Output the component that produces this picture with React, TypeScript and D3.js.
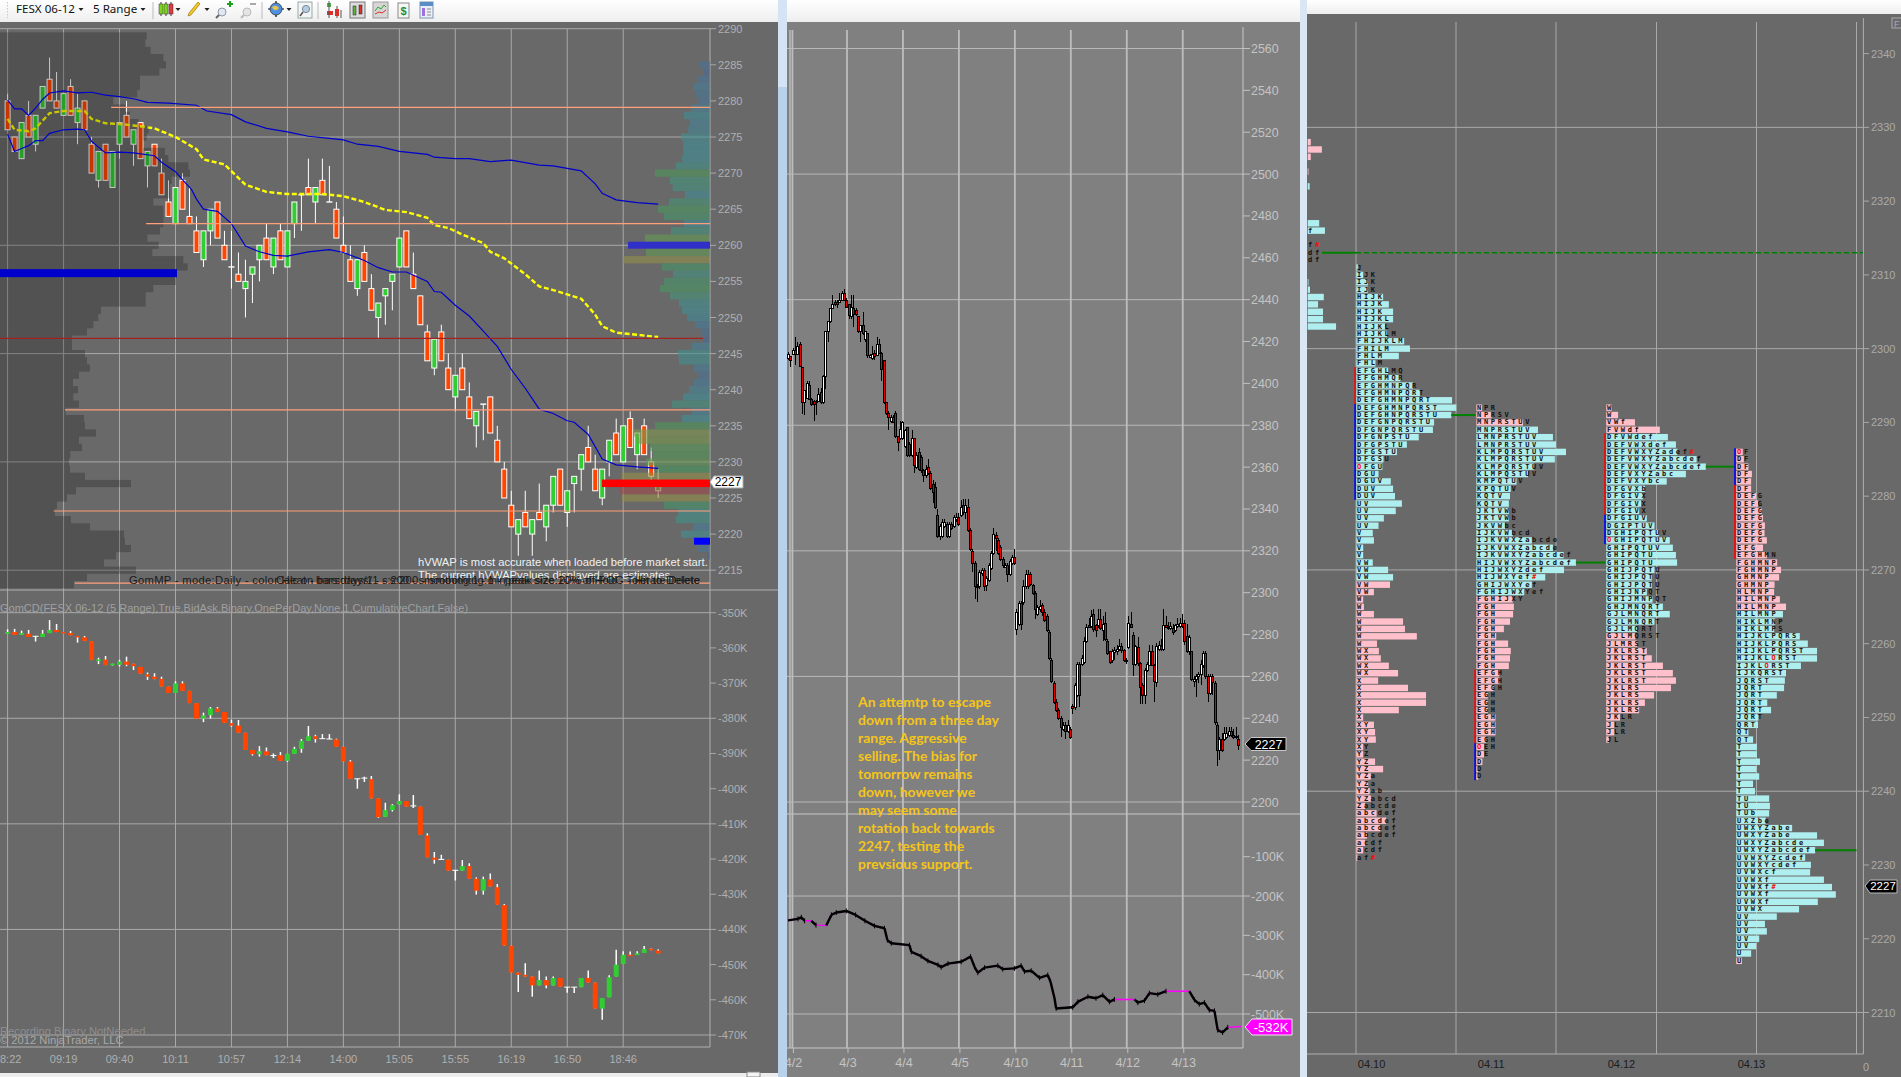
/*eslint-disable*/
import React from 'react';
import * as d3 from 'd3';

// ---- left chart: FESX 5 range candles [open, high, low, close]
const priceBars = [
  [2280,2281,2276,2276],[2275,2275,2273,2273],[2272,2277,2272,2277],[2278,2280,2275,2275],[2274,2278,2273,2278],[2279,2282,2279,2282],[2283,2286,2280,2280],[2280,2284,2279,2279],
  [2278,2281,2278,2281],[2282,2283,2278,2278],[2277,2281,2274,2279],[2280,2280,2276,2276],[2274,2275,2270,2270],[2269,2273,2268,2273],[2274,2274,2269,2269],[2268,2273,2268,2273],
  [2274,2277,2272,2277],[2278,2280,2275,2275],[2274,2276,2271,2276],[2277,2277,2272,2272],[2271,2273,2268,2273],[2274,2274,2271,2271],[2270,2272,2267,2267],[2266,2269,2264,2264],
  [2263,2268,2263,2268],[2269,2270,2265,2265],[2264,2268,2263,2263],[2262,2264,2259,2259],[2258,2262,2257,2262],[2262,2265,2260,2265],[2266,2266,2261,2261],[2260,2262,2258,2258],
  [2257,2262,2254,2257],[2256,2259,2255,2255],[2254,2258,2250,2255],[2256,2257,2252,2257],[2258,2260,2255,2260],[2261,2263,2258,2258],[2257,2261,2256,2261],[2262,2263,2258,2258],
  [2257,2262,2257,2262],[2263,2266,2261,2266],[2267,2267,2262,2267],[2268,2272,2267,2267],[2266,2268,2263,2268],[2269,2272,2267,2267],[2266,2271,2266,2266],[2265,2266,2261,2261],
  [2260,2264,2259,2259],[2258,2260,2255,2255],[2254,2258,2253,2258],[2259,2260,2255,2255],[2254,2256,2251,2251],[2250,2252,2247,2252],[2253,2254,2249,2254],[2255,2256,2251,2256],
  [2257,2261,2257,2261],[2262,2262,2257,2257],[2256,2259,2254,2254],[2253,2253,2249,2249],[2248,2249,2244,2244],[2243,2247,2242,2247],[2248,2249,2244,2244],[2243,2245,2240,2240],
  [2239,2242,2237,2242],[2243,2245,2240,2240],[2239,2241,2236,2236],[2235,2237,2232,2237],[2238,2238,2233,2238],[2239,2239,2234,2234],[2233,2235,2230,2230],[2229,2230,2225,2225],
  [2224,2226,2221,2221],[2220,2222,2217,2222],[2223,2226,2221,2221],[2220,2222,2217,2222],[2223,2227,2222,2222],[2221,2224,2219,2224],[2224,2228,2223,2228],[2229,2229,2224,2224],
  [2223,2226,2221,2226],[2227,2228,2223,2228],[2229,2231,2226,2231],[2232,2235,2230,2230],[2229,2231,2226,2226],[2225,2229,2224,2229],[2230,2233,2228,2233],[2234,2236,2231,2231],
  [2230,2235,2230,2235],[2236,2237,2232,2232],[2231,2234,2229,2234],[2235,2236,2231,2231],[2230,2232,2227,2228],[2226,2229,2225,2227],
];

const upperBandBars = [0,1,2,3,4,5,6,8,10,12,14,16,18,20,23,27,28.5,32,34,37,40,43,46,48,50,53,56,60,61,64,66,69,72,76,78,82,84,85,87,90,93];
const upperBandPrices = [2280.1,2278.9,2278.9,2278,2279,2280.2,2281.1,2281.4,2281.1,2281.2,2280.8,2280.6,2280.3,2279.8,2279.7,2279.4,2278.6,2278.1,2277.1,2276.2,2275.7,2275.1,2274.8,2274.6,2274,2273.7,2273,2272.6,2272.2,2272,2272,2271.6,2271.8,2271.1,2271,2270.3,2268.5,2267.2,2266.3,2265.9,2265.7];
const lowerBandBars = [0,1,2,3,4,5,6,8,10,11,12,13,14,16,18,21,22,24,25,26.3,27,28,30,32,34,36,38,40,43,46,48,51,53,55,57,60,61,62,64,66,68,70,72,74,76,78,80,81,83,85,87,90,93];
const lowerBandPrices = [2275.4,2273,2273.4,2273.8,2274.5,2274.5,2275.5,2276,2276.1,2276,2274.4,2273.6,2272.8,2272.9,2272.8,2272.4,2271.5,2270.2,2269.1,2267.7,2266.4,2265,2264.7,2263,2259.9,2259.1,2258.6,2258.5,2259.1,2259.4,2259,2257.9,2256.9,2256.3,2256.3,2255,2253.6,2253.5,2251.7,2250.2,2248.1,2246,2242.8,2240.2,2237.3,2236.7,2235.7,2235.5,2233.8,2230.4,2229.6,2229.3,2229.1];
const vwapBars = [0,1,3,4,6,8,11,12,14,16,18,21,24,27,28,31,34,37,40,45,48,51,54,57,60,61,63,65,68,69,71,74,76,78,82,84,85,87,90,93];
const vwapPrices = [2277.5,2276,2275.8,2276.2,2278.3,2278.6,2278.6,2277.5,2276.9,2276.8,2276.6,2276.2,2275,2273.3,2271.9,2271.2,2268.4,2267.4,2267.1,2267.1,2266.8,2266,2264.9,2264.6,2263.8,2262.8,2262.4,2261.5,2260.3,2259.1,2258.2,2256,2254.3,2253.8,2252.6,2250.4,2248.8,2247.9,2247.6,2247.3];

const levelPrices = [2279.1,2263,2237.2,2223.2,2213.2];
const levelBars = [14.8,19.8,8.2,6.6,9.6];

// left histogram, rows from 2289 down to 2213
const sessionProfile = [440,436,452,490,498,478,420,420,412,340,375,390,416,446,440,430,495,505,565,570,515,510,510,460,490,490,490,480,442,476,457,550,563,530,528,460,437,437,303,295,280,261,216,216,255,261,270,237,219,234,220,237,197,252,255,288,237,246,211,207,210,255,393,228,201,171,165,213,270,372,375,393,348,312,408,261,222];
// right histogram, rows from 2285 down to 2217
const todayProfile = [30,18,35,50,42,35,57,78,60,65,87,80,80,84,102,165,120,112,75,123,156,138,78,117,195,195,192,260,144,111,138,150,120,93,84,69,45,27,20,55,96,93,50,35,48,63,81,114,55,84,165,230,220,180,172,192,160,265,240,270,264,138,96,102,50,87,48,36,8];

const timeBars = [0,8,16,24,32,40,48,56,64,72,80,88];
const timeLabels = ['08:22','09:19','09:40','10:11','10:57','12:14','14:00','15:05','15:55','16:19','16:50','18:46'];
const leftPriceTicks = d3.range(2215, 2291, 5);
const leftGridPrices = [2290,2275,2260,2245,2230,2215];
const leftDeltaTicks = d3.range(-470, -349, 10);
const leftDeltaGrid = [-350,-380,-410,-440,-470];

// cumulative delta under the left chart [open, high, low, close], in thousands
const deltaBars = [
  [-356,-354.7,-356,-355.5],[-355.5,-354.6,-356.3,-356.3],[-356.3,-355.1,-356.3,-355.8],[-356,-354.9,-356.9,-356.9],[-356.7,-356.7,-358.2,-356.7],[-356.9,-354.9,-356.9,-356],[-355.8,-352.1,-355.8,-354.9],[-354.9,-353.2,-355.5,-355.5],
  [-355.5,-355.5,-355.8,-355.8],[-355.8,-355.2,-356.4,-356.4],[-356.6,-356.6,-358.5,-356.9],[-357,-356.6,-358,-358],[-358.1,-358.1,-363.4,-363.4],[-363.4,-362.8,-364.6,-363.3],[-363.3,-362.3,-364.9,-364.9],[-364.9,-364.5,-365,-364.5],
  [-364.8,-363.4,-365.3,-363.9],[-363.9,-362.5,-365.2,-364.8],[-364.5,-364.5,-366.3,-365.2],[-365.4,-365.4,-367.3,-367.3],[-367.5,-367,-369.1,-368.2],[-368.2,-367.2,-368.9,-368.8],[-368.8,-368.2,-371,-371],[-371,-371,-372.8,-372.8],
  [-372.8,-369.5,-372.8,-370.1],[-370.1,-369.5,-372.2,-372.2],[-372.2,-372.2,-375.7,-375.7],[-375.7,-375.7,-380.1,-380.1],[-380.1,-378.4,-381.1,-379.2],[-379.1,-376.8,-380.1,-377.2],[-377.2,-376.8,-378.2,-378.2],[-378.2,-378.2,-381.3,-381.3],
  [-381.4,-380.4,-382.4,-382.1],[-382.1,-380.5,-384.1,-384.1],[-384.1,-384.1,-389,-389],[-389,-389,-390.6,-390.2],[-390.2,-387.9,-390.9,-389.4],[-389.4,-388.3,-390.5,-390.5],[-390.6,-390,-391.3,-390.6],[-390.5,-389.6,-392.1,-392.1],
  [-392.1,-390.1,-392.4,-390.1],[-390.1,-388.1,-390.1,-388.7],[-388.7,-385.9,-389.8,-386.4],[-386.4,-382.2,-386.4,-385.1],[-385.1,-384.7,-386.9,-385.9],[-385.8,-384.5,-385.8,-385.8],[-385.9,-384.5,-385.9,-385.9],[-386,-385.8,-388.1,-388.1],
  [-388.1,-388.1,-392.3,-392.3],[-392.3,-391.9,-397.2,-397.2],[-397.2,-397.2,-400,-397.2],[-397,-396.6,-398.1,-397],[-397.3,-396.4,-402.8,-402.8],[-402.8,-402.8,-408.3,-408.1],[-408,-404,-408,-406.1],[-406.1,-404.4,-406.5,-404.7],
  [-404.5,-401.6,-404.5,-403.5],[-403.5,-403.5,-405.1,-405.1],[-404.9,-401.8,-405.5,-404.9],[-405.1,-405.1,-413.1,-413.1],[-413.3,-412.7,-419.5,-419.5],[-419.6,-418,-421.3,-420.2],[-420.1,-418.8,-420.1,-420.1],[-420.2,-420.2,-423.3,-423.3],
  [-423.2,-423.2,-426.1,-423.2],[-423.3,-420.3,-423.3,-422],[-422,-421.2,-425.6,-425.6],[-425.6,-425.2,-430.1,-429],[-429,-425,-430.1,-425.7],[-425.8,-424.1,-427.8,-427.8],[-428,-427.1,-433,-433],[-433.1,-432.8,-444.6,-444.6],
  [-444.6,-444.6,-452.3,-452.3],[-452.3,-452.3,-457.8,-452.9],[-452.9,-449.6,-453.4,-453.4],[-453.4,-453.4,-459.1,-455.9],[-455.9,-451.7,-455.9,-454.4],[-454.4,-453.4,-456.7,-455.9],[-455.9,-453.4,-455.9,-453.8],[-453.8,-453.8,-456.3,-456.3],
  [-456.4,-456.4,-458,-456.4],[-456.4,-456.4,-458.1,-456.4],[-456.4,-453.8,-456.4,-453.8],[-453.8,-451.7,-455.1,-455.1],[-455.1,-455.1,-462.5,-462.5],[-462.5,-459.5,-465.7,-459.5],[-459.3,-453,-459.3,-453.6],[-453.4,-445.8,-453.4,-450],
  [-449.8,-446.2,-449.8,-447.2],[-447.2,-446.3,-447.3,-447.3],[-447.3,-446.2,-447.3,-446.8],[-446.7,-444.7,-446.7,-445.6],[-445.5,-445.4,-445.9,-445.9],[-446,-445.6,-446.8,-446.8],
];

// ---- middle chart: daily swing candles [open, high, low, close]
const midBars = [
  [2412,2415,2411,2414],[2413,2413,2408,2411],[2414,2417,2414,2416],[2416,2422,2409,2414],[2414,2420,2414,2418],[2419,2420,2408,2408.5],[2408,2408,2385.5,2391],[2391,2397,2385,2397],
  [2393,2401,2393,2400],[2399,2401,2392,2392.5],[2392.5,2393,2389,2390],[2391.5,2392,2382,2390],[2391,2392,2385,2391.5],[2391.5,2398,2391,2395],[2396,2398,2390,2391],[2391,2404,2390,2403.5],
  [2403.5,2425,2397.5,2425],[2425,2430,2420,2430],[2430,2436,2429,2436],[2436,2442,2436,2438],[2439,2440,2437,2438],[2439,2440,2436,2438],[2439,2443,2439,2440],[2440,2444,2440,2443],
  [2443,2445,2440,2440],[2440,2441,2436,2436.5],[2438,2438,2431,2432.5],[2432,2442,2431,2436.5],[2436,2442,2427,2433],[2435,2436,2432,2433],[2432,2432,2424,2425],[2425,2428,2420,2428],
  [2428,2434,2423,2424],[2421,2425,2420,2425],[2424,2424,2412,2413.5],[2412.5,2414,2412,2413.5],[2412,2418,2411,2414],[2414.5,2416,2411,2413],[2413.5,2422,2413,2419],[2419,2421,2414,2414.5],
  [2414.5,2415,2401,2407],[2411,2411,2390,2391],[2391,2391,2385,2386],[2386,2387,2377.5,2384],[2382,2385,2381,2384],[2384,2385,2381,2381.5],[2386,2387,2374,2375],[2375,2375,2367.5,2372],
  [2374,2382,2373,2378],[2374,2382,2373,2381.5],[2370,2378,2369,2377.5],[2379,2379,2365,2366],[2371,2372,2365,2366],[2366,2377.5,2365,2374],[2374,2374,2357,2361],[2360,2367,2359,2366],
  [2367,2369,2358,2359],[2365,2366,2357,2358.5],[2358.5,2359,2353,2356],[2356,2361,2355,2359],[2360,2364,2356,2357],[2357,2358,2349,2350],[2352,2354,2343,2348],[2350.5,2353,2340,2341],
  [2337,2340,2326,2327],[2327,2333,2325,2332],[2327,2335,2326,2334],[2332,2335,2331,2334],[2333,2334,2326,2327],[2327,2334,2326,2333],[2333,2334,2330,2331],[2332,2337,2331,2336],
  [2335,2338,2334,2336],[2336,2338,2332,2333],[2337,2344.5,2336,2341],[2342,2345,2337,2338.5],[2338.5,2345,2335,2342],[2341,2345,2329,2330],[2330,2331,2320,2321],[2320,2321,2310,2314],
  [2314,2315,2297,2303],[2302.5,2304,2295.5,2303],[2303,2311,2302,2310],[2309.5,2312,2308,2311],[2311,2312,2301,2303],[2303.5,2308,2301,2307],[2306,2314,2305,2313],[2312,2320,2311,2319],
  [2319,2331,2318,2328],[2327.5,2329,2320,2326],[2325,2326,2318,2319],[2322,2323,2315,2316],[2316,2317,2312,2313],[2312.5,2314,2312,2313],[2313,2314,2305,2309],[2309,2316,2308,2315],
  [2314,2318,2313,2317],[2317,2321,2313,2314],[2282.5,2292,2280,2291],[2285,2296,2284,2295],[2295,2296,2282,2285],[2295.5,2306,2294,2303],[2303,2311,2302,2309],[2309,2311,2302,2303],
  [2309,2310,2303,2304],[2303.5,2304,2299,2300],[2300,2301,2287.5,2292],[2290,2294,2289,2293],[2292,2296.5,2291,2293.5],[2294,2295,2289,2291],[2291,2292,2286,2287],[2289,2290,2281,2282],
  [2281,2282,2268,2269],[2268,2269,2257,2258],[2257,2258,2247,2248],[2248,2249,2243,2244],[2244,2245,2239,2240],[2240,2241,2231,2236],[2235,2238,2234,2237],[2237,2238,2230,2234],
  [2234,2239,2233,2237],[2235,2236,2230,2231],[2246,2247,2242,2245],[2245.5,2257,2244,2256],[2251,2267,2250,2266],[2266,2267,2245.5,2251],[2266,2270,2265,2269],[2267,2279,2266,2277],
  [2277,2285,2276,2283.5],[2284.5,2288,2283,2283.5],[2284,2291.5,2283,2289],[2290,2292,2281,2282.5],[2284.5,2285,2279,2282],[2284.5,2292,2283,2287.5],[2287.5,2292,2282,2283],[2282,2289,2277,2285],
  [2285.5,2291,2277,2278],[2277,2278,2270,2271],[2272,2272,2266,2267],[2268,2273,2266.5,2272],[2271.5,2274,2268,2272.5],[2272,2275,2270,2273],[2273,2278,2272,2274.5],[2274.5,2276,2271,2272.5],
  [2272.5,2273,2267,2268],[2268,2269,2266,2267.5],[2274,2289,2273,2285.5],[2285,2291,2283,2283.5],[2280,2281,2260,2266],[2266,2275,2265,2274.5],[2274,2279,2265,2266.5],[2266.5,2267,2247,2255],
  [2256,2257,2247,2251],[2251,2264,2247,2263],[2263,2267,2262,2266],[2265.5,2275,2265,2272],[2272,2275,2265,2265.5],[2265.5,2266,2248,2258],[2257.5,2276,2255,2274.5],[2273,2277,2272,2275],
  [2274.5,2278,2272,2273],[2273,2292,2272,2284.5],[2284.5,2289,2283,2283.5],[2283.5,2286,2282,2283],[2283,2286,2282,2284],[2283,2285,2280,2281],[2282,2285,2281,2284.5],[2284,2288,2283,2285],
  [2284,2288,2283,2285.5],[2285.5,2290,2283,2284],[2285.5,2287,2275,2277],[2279.5,2285,2271,2272],[2272,2280,2270,2279],[2272,2272,2258,2259],[2258,2260,2255,2259],[2259,2261,2250,2260],
  [2260,2262,2257,2261],[2261,2268,2256,2266],[2265.5,2272,2264,2271],[2271,2272,2259,2260],[2260,2261,2248,2252],[2252,2261,2251,2260],[2260,2261,2251,2257.5],[2257,2258,2237,2238],
  [2237,2238,2217,2225],[2225,2231,2220,2230],[2230,2233,2224,2225],[2230,2236,2229,2233],[2231,2236,2230,2233],[2232,2236,2231,2234],[2234,2236,2231,2232],[2232,2235,2230,2231],
  [2231.5,2236,2230,2231],[2230,2232,2225,2227],
];
const midDayBars = [1.9,25.3,49.3,73.3,97.3,121.3,145.3,169.3];
const midDayLabels = ['4/2','4/3','4/4','4/5','4/10','4/11','4/12','4/13'];
const midPriceTicks = d3.range(2200, 2561, 20);
const midGridPrices = [2560,2500,2440,2380,2320,2260,2200];
const midDeltaTicks = [-100,-200,-300,-400,-500];
const midDeltaGrid = [-200,-500];

const cumDeltaBars = [0,4.3,5.7,7.1,10,12,16.4,18.6,20.7,25,29,33,37.1,41.4,42.6,44.3,52.1,52.9,57.1,60,64.3,65.7,68.6,74.3,78.3,80,81.4,84.3,90,92.1,97.1,100,101.4,104.3,107.9,111.4,112.6,114.3,115,122.1,124.3,128.6,132.1,135,137.9,140,148.6,150,152.9,155,158.6,162.1,172.1,174.3,176.4,178.6,180.7,182.9,184.3,186.4,188.6,194.3];
const cumDeltaValues = [-262,-258,-254,-263,-263,-274,-275,-248,-242,-238,-248,-263,-276,-282,-312,-320,-325,-342,-353,-365,-375,-381,-372,-367,-354,-380,-395,-382,-377,-386,-384,-377,-392,-390,-408,-401,-418,-460,-486,-483,-469,-456,-460,-452,-469,-463,-463,-471,-466,-447,-450,-442,-442,-464,-475,-471,-490,-492,-541,-547,-534,-532];

const noteLines = ['An attemtp to escape','down from a three day','range. Aggressive','selling. The bias for','tomorrow remains','down, however we','may seem some','rotation back towards','2247, testing the','prevsious support.'];

// ---- right chart: market profile letters per session, top row first
const tpoPrevPrices = [2328,2327,2326,2324,2322,2317,2316,2314,2313,2312,2309,2308,2307,2306,2305,2304,2303];
const tpoPrevVolumes = [8,37,8,2,5,30,45,0,0,0,2,6,42,27,40,40,74];
const tpoPrevLetters = ['','','','','','','f','f#','df','df','','','','','','',''];

const tpo10Letters = ['J','IJK','IJK','IJK','HIJK','HIJK','HIJK','HIJKL','HIJKL','HIJKLM','FHIJKLM','FHILM','FHLM','FHLM','EFGHLMQ','EFGHMQR','EFGHMNPQR','EFGHMNPQRT','DEFGHMNPQRT','DEFGHMNPQRST','DEFGHNPQRSTU','DEFGNPQRSTU','DFGNPQRSTU','DFGNPSTU','DFGPSTU','DFGSTU','DFGSU','OFGU','DGU','DGUV','DUV','DUV','UV','UV','UV','UV','V','V','V','V','VW','VW','VW','VW','VW','W','W','W','W','W','W','W','WX','WX','WX','WX','X','X','X','X','X','X','XY','XY','XY','XY','YZ','YZ','YZ','YZa','YZa','YZab','YZabcd','Zabcde','abcdef','abcdef','abcdef','abcdef','acdf','acdf','af#'];
const tpo10Volumes = [4,18,30,30,70,85,96,96,75,80,125,140,111,50,83,115,148,166,250,261,248,203,200,163,132,106,71,68,58,90,96,101,119,103,72,58,43,46,18,18,43,83,96,88,46,18,20,46,122,127,158,54,59,64,85,109,57,135,182,182,111,18,46,49,51,18,18,49,70,38,31,35,38,23,53,78,63,28,23,18,3];

const tpo11Letters = ['NPR','NPRSV','MNPRSTUV','MNPRSTUV','LMNPRSTUV','LMNPRSTUV','KLMPQRSTUV','KLMPQRSTUV','KLMPQRSTUV','KLMPQSTUV','KMPQTUV','KPQTUV','KQTV','KQTV','JKTVWb','JKTVWb','JKVWbc','IJKVWbcd','IJKVWXZabcde','IJKVWXZabcde','IJKVWXYZabcdef','HIJVWXYZabcdef','HIJWXYZdef','HIJWXYef#','GHIJWXYef','FGHIJWXYef','FGHIJXY','FGH','FGH','FGH','FGH','FGH','FGH','FGH','FGH','FGH','EFGH','EFGH','EFGH','EGH','EGH','EGH','EGH','EGH','EGH','EGH','OEH','DE','D','D','D'];
const tpo11Volumes = [15,40,122,161,200,208,234,205,150,135,105,90,88,85,85,85,75,95,145,200,228,260,229,180,145,125,95,98,96,88,72,52,83,90,88,85,60,60,45,30,30,30,50,50,50,25,20,20,16,5,5];

const tpo12Letters = ['W','W','VWf','FVWdf','DFVWdef','DEFVWXdef','DEFVWXYZadef#','DEFVWXYZabcdef','DEFVWXYZabcdef','DEFVXYZabc','DEFVXYbc','DFGVXb','DFGIVX','DFGIVX','DFGIVX','DFGIUV','DGIPTUV','DGHIPQTUV','OGHIPQTUV','GHIPQTUV','GHIPQTU','GHIPQTU','GHIJPQTU','GHIJPQTU','GHIJPQTU','GHIJNPQT','GHIJMNPQT','GHJMNQRT','GJLMNQRT','GJLMNQRT','GJLMQRT','GJLMQRST','JLMRST','JKLRST','JKLRST','JKLRST','JKLRST','JKLRST','JKLRS','JKLRS','JKLRS','JKLRS','JKLR','JLR','JLR','JL'];
const tpo12Volumes = [14,31,75,140,161,182,186,236,260,208,158,101,96,91,86,106,126,138,166,174,182,185,126,119,119,106,121,148,166,126,81,76,81,106,119,148,174,182,169,125,101,86,36,21,21,7];

const tpo13Letters = ['OF','DF','DF','DF','DF','DF','DEFG','DEFG','DEFG','DEFG','DEFG','DEFG','DEFG','EFG','EFGHMN','FGHMNP','FGHMNP','GHMNP','GHMNP','HLMNP','HILMNP','HILMNP','HILMNP','HIKLMNP','HIKLMPS','HIJKLPQRS','HIJKLPQRS','HIJKLPQRST','HIJKLORST','IJKLORST','IJKQRST','JQRST','JQRT','JQRT','JQRT','JQRT','JQRT','QRT','QT','QT','T','T','T','T','T','T','T','TU','TU','TUb','UXZbe','UWXYZabe','UWXYZabe','UWXYZabcde','UWXYZabcdef','UVWXYZcdef','UVWXYcdef','UVWXcf','UVWXf','UVWXf#','UVWXf','UVWXf','UVWX','UV','UV','UV','UV','UV','U','U'];
const tpo13Volumes = [17,20,32,41,39,39,52,57,67,70,75,74,80,70,80,107,117,112,100,99,114,130,122,102,99,166,187,211,211,169,130,127,125,106,81,91,58,57,32,44,54,54,62,53,60,44,49,86,88,86,77,146,211,229,206,180,195,193,229,250,260,213,164,106,75,80,60,52,39,15];

const tpoDayLabels = ['04.10','04.11','04.12','04.13'];
const tpoTopPrices = [2311,2292,2292,2286];
const tpoCyanBands = [[2311,2269],[2289,2267],[2288,2262],[2264,2218]];
const tpoRedRanges = [[2297.5,2292.5],[2256.5,2246.5],[2288.5,2277.5],[2281.5,2271.5]];
const tpoBlueRanges = [[2292.5,2279.5],[2246.5,2241.5],[2277.5,2273.5],[2286.5,2281.5]];
const tpoPocPrices = [2291,2271,2284,2232];
const rightPriceTicks = d3.range(2210, 2341, 10);
const rightGridPrices = [2330,2300,2270,2240,2210];

// ---- scales
const leftX = d3.scaleLinear().domain([0, 88]).range([7.6, 623.2]);
const leftY = d3.scaleLinear().domain([2290, 2215]).range([28.7, 570.2]);
const leftDeltaY = d3.scaleLinear().domain([-350, -470]).range([612.7, 1035]);
const midX = d3.scaleLinear().domain([0, 193]).range([788, 1238]);
const midY = d3.scaleLinear().domain([2560, 2200]).range([48.5, 802]);
const midDeltaY = d3.scaleLinear().domain([-100, -500]).range([856.7, 1014]);
const rightY = d3.scaleLinear().domain([2340, 2210]).range([53.6, 1012.5]);
const tpoW = d3.scaleLinear().domain([0, 261]).range([0, 100]);
const tpoStarts = [1356.3, 1476.3, 1606.2, 1736.2];
const tpoGridX = [1356, 1456, 1556, 1656.5, 1756.5, 1856.5];
const todayColor = d3.scaleLinear<string>()
  .domain([20, 80, 160, 225, 268, 270])
  .range(['#4a6b99', '#3e8f98', '#48985a', '#7c9a4c', '#988e48', '#a04a4a']);

const sans = '"Liberation Sans", Arial, sans-serif';
const lineOf = (xs: number[], ys: number[], fx: any, fy: any) =>
  d3.line<number>().x((d) => fx(d)).y((_, i) => fy(ys[i])).curve(d3.curveLinear)(xs) as string;

const CandleLeft = ({ d, i, y }: any) => {
  const [o, h, l, c] = d;
  const x = leftX(i);
  if (o === c) {
    return (
      <g stroke="#fff">
        <line x1={x} x2={x} y1={y(h)} y2={y(l)} strokeWidth={1} />
        <line x1={x - 3} x2={x + 3} y1={y(o)} y2={y(o)} strokeWidth={1.4} />
      </g>
    );
  }
  const top = Math.max(o, c);
  const bot = Math.min(o, c);
  return (
    <g>
      <line x1={x} x2={x} y1={y(h)} y2={y(l)} stroke="#fff" strokeWidth={1} />
      <rect x={x - 2.5} width={5} y={y(top)} height={y(bot) - y(top)} fill={c > o ? '#32cd32' : '#ff4500'} stroke="#fff" strokeWidth={1} />
    </g>
  );
};

const CandleDelta = ({ d, i, y }: any) => {
  const [o, h, l, c] = d;
  const x = leftX(i);
  if (o === c) {
    return (
      <g stroke="#fff">
        <line x1={x} x2={x} y1={y(h)} y2={y(l)} strokeWidth={1.5} />
        <line x1={x - 3} x2={x + 3} y1={y(o)} y2={y(o)} strokeWidth={1} />
      </g>
    );
  }
  const top = Math.max(o, c);
  const bot = Math.min(o, c);
  return (
    <g>
      <line x1={x} x2={x} y1={y(h)} y2={y(l)} stroke="#fff" strokeWidth={1.5} />
      <rect x={x - 2.5} width={5} y={y(top)} height={Math.max(1.5, y(bot) - y(top))} fill={c > o ? '#32cd32' : '#ff4500'} />
    </g>
  );
};

// snapped to whole pixels so the outline stays black and the fill stays solid
const CandleMid = ({ d, i }: any) => {
  const [o, h, l, c] = d;
  const x = Math.round(midX(i)) + 0.5;
  const top = Math.round(midY(Math.max(o, c))) + 0.5;
  const bot = Math.round(midY(Math.min(o, c))) + 0.5;
  return (
    <g shapeRendering="crispEdges">
      <line x1={x} x2={x} y1={midY(h)} y2={midY(l)} stroke="#000" strokeWidth={1} />
      <rect x={x - 1} width={2} y={top} height={Math.max(1, bot - top)} fill={c > o ? '#fff' : '#e60000'} stroke="#000" strokeWidth={1} />
    </g>
  );
};

// letters sit on a fixed grid, open marker and # are red
const TpoText = ({ x, y, s }: any) => (
  <text x={x} y={y} dominantBaseline="central" fontFamily='"DejaVu Sans Mono", monospace' fontWeight="bold" fontSize={7} letterSpacing={2.65} fill="#111">
    {s.split('').map((ch: string, k: number) => (
      <tspan key={k} fill={ch === '#' || ch === 'O' ? '#ee1111' : '#111'}>{ch}</tspan>
    ))}
  </text>
);

const Toolbar = () => (
  <g>
    <defs>
      <linearGradient id="bar" x1="0" y1="0" x2="0" y2="1">
        <stop offset="0" stopColor="#ffffff" />
        <stop offset="1" stopColor="#eeeeee" />
      </linearGradient>
    </defs>
    <rect x={0} y={0} width={780} height={22} fill="url(#bar)" />
    <rect x={787} y={0} width={513} height={22} fill="url(#bar)" />
    <rect x={1307} y={0} width={594} height={14} fill="url(#bar)" />
    <line x1={7.5} x2={7.5} y1={2} y2={18} stroke="#c8c8c8" strokeDasharray="1.5,1.5" />
    <text x={16} y={13} fontFamily='"Noto Sans", sans-serif' fontSize={11.6} fill="#111">FESX 06-12</text>
    <text x={93} y={13} fontFamily='"Noto Sans", sans-serif' fontSize={11.6} fill="#111">5 Range</text>
    {[81, 143, 178, 207, 289].map((x) => <path key={x} d={`M${x - 2.5},8 h5 l-2.5,3 z`} fill="#222" />)}
    {[153, 262, 318].map((x) => <line key={x} x1={x} x2={x} y1={2} y2={19} stroke="#bbb" />)}
    {[161, 166, 171].map((x, k) => (
      <g key={x}>
        <line x1={x} x2={x} y1={2} y2={16} stroke="#333" />
        <rect x={x - 2} y={4} width={4} height={10} fill={k === 2 ? '#e23b3b' : '#7ed321'} stroke="#333" strokeWidth={0.5} />
      </g>
    ))}
    <path d="M188,16 l3,-1 l9,-11 l-2,-2 l-9,11 z" fill="#f2c521" stroke="#8a6d10" strokeWidth={0.6} />
    <circle cx={222} cy={12} r={4} fill="#dfe8f2" stroke="#8f99a5" />
    <line x1={219} x2={216} y1={15} y2={18} stroke="#666" strokeWidth={2} />
    <path d="M227,4 h6 M230,1 v6" stroke="#1aa01a" strokeWidth={2} />
    <circle cx={247} cy={12} r={4} fill="#e4e4e4" stroke="#bbb" />
    <line x1={244} x2={241} y1={15} y2={18} stroke="#bbb" strokeWidth={2} />
    <path d="M250,4 h6" stroke="#aaa" strokeWidth={2} />
    <circle cx={276} cy={9} r={6} fill="#4f8fe0" stroke="#222" strokeWidth={0.7} />
    <path d="M272,7 q4,-3 7,1 q-3,4 -6,1 z" fill="#e5c64a" />
    <path d="M276,1 v2 M276,15 v2 M268,9 h2 M282,9 h2" stroke="#111" strokeWidth={1.2} />
    <rect x={298} y={2} width={14} height={16} fill="#f2f4f6" stroke="#9aa" />
    <circle cx={306} cy={9} r={3.6} fill="#b6cce0" stroke="#789" />
    <line x1={303} x2={300} y1={12} y2={16} stroke="#555" strokeWidth={1.5} />
    <rect x={327} y={3} width={4} height={4} fill="#4caf50" />
    <rect x={327} y={11} width={6} height={4} fill="#d9302c" />
    <path d="M329,1 v17 M337,6 v12 M341,10 v8" stroke="#555" />
    <rect x={335} y={9} width={4} height={7} fill="#d9302c" />
    <rect x={350} y={2} width={15} height={16} fill="#ddd" stroke="#777" />
    <rect x={353} y={6} width={3} height={9} fill="#5ab23a" stroke="#222" strokeWidth={0.5} />
    <rect x={359} y={5} width={3} height={9} fill="#d9302c" stroke="#222" strokeWidth={0.5} />
    <rect x={373} y={2} width={15} height={16} fill="#d6d6d6" stroke="#999" />
    <path d="M375,11 l3,-4 l3,2 l3,-4 l2,2" stroke="#2fa52f" fill="none" />
    <path d="M375,14 l4,-2 l3,1 l4,-3" stroke="#d9302c" fill="none" />
    <rect x={398} y={3} width={11} height={15} fill="#f6f6f6" stroke="#888" />
    <text x={400.5} y={15} fontFamily={sans} fontWeight="bold" fontSize={11} fill="#1f8f2f">$</text>
    <rect x={420} y={2} width={13} height={16} fill="#eaf0f7" stroke="#7f95b0" />
    <rect x={420} y={2} width={13} height={4} fill="#5b8ec4" />
    <rect x={422} y={8} width={3} height={8} fill="#a070e0" />
    <path d="M427,9 h4 M427,12 h4 M427,15 h4" stroke="#888" />
  </g>
);

export default function App() {
  const cumPts = cumDeltaBars.map((b, i) => [midX(b), midDeltaY(cumDeltaValues[i])]);
  return (
    <svg width={1901} height={1077} style={{ position: 'absolute', left: 0, top: 0, display: 'block' }}>
      {/* pane backgrounds */}
      <rect x={0} y={0} width={780} height={1077} fill="#696969" />
      <rect x={787} y={0} width={513} height={1077} fill="#808080" />
      <rect x={1307} y={0} width={594} height={1077} fill="#696969" />

      {/* ---------- left pane ---------- */}
      <g>
        {leftGridPrices.map((p) => <line key={p} x1={0} x2={710} y1={leftY(p)} y2={leftY(p)} stroke="#a9a9a9" />)}
        {leftDeltaGrid.map((p) => <line key={p} x1={0} x2={710} y1={leftDeltaY(p)} y2={leftDeltaY(p)} stroke="#a9a9a9" />)}
        {timeBars.map((b) => <line key={b} x1={leftX(b)} x2={leftX(b)} y1={29} y2={1047} stroke="#a9a9a9" />)}
        <line x1={0} x2={778} y1={590} y2={590} stroke="#b0b0b0" />
        <line x1={0} x2={710} y1={1047} y2={1047} stroke="#b0b0b0" />
        <line x1={710} x2={710} y1={28} y2={1047} stroke="#b0b0b0" />

        {priceBars.map((d, i) => <CandleLeft key={i} d={d} i={i} y={leftY} />)}
        <path d={lineOf(vwapBars, vwapPrices, leftX, leftY)} fill="none" stroke="#ffff00" strokeWidth={2.4} strokeDasharray="5,2.5" />

        {/* session profile dims what is under it */}
        {sessionProfile.map((v, i) => {
          const p = 2289 - i;
          return <rect key={p} x={0} width={v / 3} y={leftY(p + 0.5)} height={leftY(p - 0.5) - leftY(p + 0.5)} fill="#000" opacity={0.22} />;
        })}
        <rect x={0} width={177} y={leftY(2256.7)} height={8} fill="#0000cd" />

        {todayProfile.map((v, i) => {
          const p = 2285 - i;
          return <rect key={p} x={710 - v / 3} width={v / 3} y={leftY(p + 0.5)} height={leftY(p - 0.5) - leftY(p + 0.5)} fill={todayColor(v)} opacity={0.6} />;
        })}
        <rect x={628} width={82} y={leftY(2260.5)} height={7} fill="#3030c8" />
        <rect x={694} width={16} y={leftY(2219.5)} height={7} fill="#0000ff" />

        <path d={lineOf(upperBandBars, upperBandPrices, leftX, leftY)} fill="none" stroke="#0000cd" strokeWidth={1.2} />
        <path d={lineOf(lowerBandBars, lowerBandPrices, leftX, leftY)} fill="none" stroke="#0000cd" strokeWidth={1.2} />

        {levelPrices.map((p, i) => <line key={p} x1={leftX(levelBars[i])} x2={710} y1={leftY(p)} y2={leftY(p)} stroke="#ffa07a" strokeWidth={1.2} />)}
        <line x1={0} x2={703} y1={leftY(2247.1)} y2={leftY(2247.1)} stroke="#a52020" strokeWidth={1.2} />
        <rect x={602} width={108} y={leftY(2227) - 4} height={7.5} fill="#ff0000" />

        <text x={418} y={566} fontFamily={sans} fontSize={11.2} fill="#f0f0f0">hVWAP is most accurate when loaded before market start.</text>
        <text x={418} y={579} fontFamily={sans} fontSize={11.2} fill="#f0f0f0">The current hVWAPvalues displayed are estimates.</text>
        <text x={129} y={584} textLength={571} lengthAdjust="spacing" fontFamily={sans} fontSize={11.2} fill="#1a1a1a">GomMP - mode:Daily - color:Heat - bars:days/1 - s:200 - smoothing:1 - peak size:20% of POC - Hit to Delete</text>
        <text x={276} y={584} textLength={424} lengthAdjust="spacing" fontFamily={sans} fontSize={11.2} fill="#1a1a1a">Calc on bars:days/1 - s:200 - smoothing:1 - min peak size:10% of Hold - Tolerate Delete</text>

        {deltaBars.map((d, i) => <CandleDelta key={i} d={d} i={i} y={leftDeltaY} />)}

        <text x={0} y={612} fontFamily={sans} fontSize={11} fill="#a0a0a0">GomCD(FESX 06-12 (5 Range),True,BidAsk,Binary,OnePerDay,None,1,CumulativeChart,False)</text>
        <text x={0} y={1035} fontFamily={sans} fontSize={11.2} fill="#8e8e8e">Recording Binary NotNeeded</text>
        <text x={0} y={1044} fontFamily={sans} fontSize={11.2} fill="#a8a8a8">© 2012 NinjaTrader, LLC</text>

        {leftPriceTicks.map((p) => (
          <g key={p}>
            <line x1={710} x2={716} y1={leftY(p)} y2={leftY(p)} stroke="#a9a9a9" />
            <text x={718} y={leftY(p) + 4} fontFamily={sans} fontSize={11} fill="#b0b0b0">{p}</text>
          </g>
        ))}
        {leftDeltaTicks.map((p) => (
          <g key={p}>
            <line x1={710} x2={716} y1={leftDeltaY(p)} y2={leftDeltaY(p)} stroke="#a9a9a9" />
            <text x={718} y={leftDeltaY(p) + 4} fontFamily={sans} fontSize={11} fill="#b0b0b0">{p}K</text>
          </g>
        ))}
        {timeBars.map((b, i) => (
          <text key={b} x={leftX(b)} y={1063} textAnchor="middle" fontFamily={sans} fontSize={11} fill="#b0b0b0">{timeLabels[i]}</text>
        ))}
        <path d="M710,482 l4,-6 h29 v12 h-29 z" fill="#fff" stroke="#aaa" />
        <text x={728} y={486} textAnchor="middle" fontFamily={sans} fontSize={12} fill="#000">2227</text>
      </g>

      {/* ---------- middle pane ---------- */}
      <g>
        {midGridPrices.map((p) => <line key={p} x1={787} x2={1243} y1={midY(p)} y2={midY(p)} stroke="#b8b8b8" />)}
        {midDeltaGrid.map((p) => <line key={p} x1={787} x2={1243} y1={midDeltaY(p)} y2={midDeltaY(p)} stroke="#b8b8b8" />)}
        <line x1={787} x2={1300} y1={814} y2={814} stroke="#c8c8c8" />
        <line x1={787} x2={1243} y1={1048} y2={1048} stroke="#c8c8c8" />
        <line x1={1243} x2={1243} y1={27} y2={1048} stroke="#c8c8c8" />
        <line x1={790} x2={790} y1={30} y2={1048} stroke="#bdbdbd" strokeWidth={1.5} />
        {midDayBars.map((b) => <line key={b} x1={midX(b)} x2={midX(b)} y1={30} y2={1048} stroke="#bdbdbd" strokeWidth={1.8} />)}
        {midBars.map((d, i) => <CandleMid key={i} d={d} i={i} />)}

        <path d={lineOf(cumDeltaBars, cumDeltaValues, midX, midDeltaY)} fill="none" stroke="#ff00ff" strokeWidth={1.5} />
        {cumPts.slice(1).map((pt, i) => {
          const prev = cumPts[i];
          const rate = Math.abs(pt[1] - prev[1]) / Math.max(0.5, pt[0] - prev[0]);
          if (rate < 0.06) return null;
          return (
            <g key={i} stroke="#000">
              <line x1={prev[0]} y1={prev[1]} x2={pt[0]} y2={pt[1]} strokeWidth={2.4} />
              <line x1={pt[0]} y1={pt[1] - 2.5} x2={pt[0]} y2={pt[1] + 2.5} strokeWidth={1} />
            </g>
          );
        })}

        {noteLines.map((s, i) => (
          <text key={i} x={858} y={707 + i * 18} fontFamily="Lato, sans-serif" fontWeight="bold" fontSize={14} fill="#f5c518">{s}</text>
        ))}

        {midPriceTicks.map((p) => (
          <g key={p}>
            <line x1={1243} x2={1250} y1={midY(p)} y2={midY(p)} stroke="#c0c0c0" />
            <text x={1251} y={midY(p) + 4.5} fontFamily={sans} fontSize={12.4} fill="#c4c4c4">{p}</text>
          </g>
        ))}
        {midDeltaTicks.map((p) => (
          <g key={p}>
            <line x1={1243} x2={1250} y1={midDeltaY(p)} y2={midDeltaY(p)} stroke="#c0c0c0" />
            <text x={1251} y={midDeltaY(p) + 4.5} fontFamily={sans} fontSize={12.4} fill="#c4c4c4">{p}K</text>
          </g>
        ))}
        {midDayBars.map((b, i) => (
          <g key={b}>
            <line x1={midX(b) + 1} x2={midX(b) + 1} y1={1048} y2={1053} stroke="#c0c0c0" />
            <text x={midX(b) + 1} y={1067} textAnchor="middle" fontFamily={sans} fontSize={12.6} fill="#c4c4c4">{midDayLabels[i]}</text>
          </g>
        ))}
        <path d="M1245,744 l6,-6.5 h35 v13 h-35 z" fill="#000" stroke="#c8c8c8" />
        <text x={1268.5} y={748.5} textAnchor="middle" fontFamily={sans} fontSize={12.4} fill="#fff">2227</text>
        <path d="M1245,1027 l7,-8 h40 v16 h-40 z" fill="#ff00ff" stroke="#e8e8e8" />
        <text x={1271} y={1031.5} textAnchor="middle" fontFamily={sans} fontSize={13} fill="#fff">-532K</text>
      </g>

      {/* ---------- right pane ---------- */}
      <g>
        {rightGridPrices.map((p) => <line key={p} x1={1307} x2={1863} y1={rightY(p)} y2={rightY(p)} stroke="#a9a9a9" />)}
        {tpoGridX.map((x) => <line key={x} x1={x} x2={x} y1={22} y2={1054} stroke="#a9a9a9" />)}
        <line x1={1307} x2={1863.4} y1={1054} y2={1054} stroke="#b0b0b0" />
        <line x1={1863.4} x2={1863.4} y1={18} y2={1054} stroke="#b0b0b0" />

        {/* previous session, cut off by the pane edge */}
        {tpoPrevPrices.map((p, i) => (
          <g key={p}>
            {tpoPrevVolumes[i] > 0 && (
              <rect x={1307.7} width={tpoW(tpoPrevVolumes[i])} y={rightY(p) - 3.2} height={6.4} fill={p > 2323 ? '#ffc0cb' : '#afeeee'} />
            )}
            {tpoPrevLetters[i] && <TpoText x={1308} y={rightY(p)} s={tpoPrevLetters[i]} />}
          </g>
        ))}
        <line x1={1322} x2={1356} y1={rightY(2313)} y2={rightY(2313)} stroke="#008000" strokeWidth={2} />
        <line x1={1356} x2={1863} y1={rightY(2313)} y2={rightY(2313)} stroke="#008000" strokeWidth={1.6} strokeDasharray="5,3" />

        {[tpo10Letters, tpo11Letters, tpo12Letters, tpo13Letters].map((letters, day) => {
          const volumes = [tpo10Volumes, tpo11Volumes, tpo12Volumes, tpo13Volumes][day];
          const x0 = tpoStarts[day];
          const [cyanHi, cyanLo] = tpoCyanBands[day];
          const pocIdx = tpoTopPrices[day] - tpoPocPrices[day];
          const pocEnd = day < 3 ? tpoStarts[day + 1] - 1 : tpoGridX[5];
          return (
            <g key={day}>
              {letters.map((s, i) => {
                const p = tpoTopPrices[day] - i;
                return (
                  <rect key={i} x={x0} width={tpoW(volumes[i])} y={rightY(p) - 3.2} height={6.4} fill={p <= cyanHi && p >= cyanLo ? '#afeeee' : '#ffc0cb'} />
                );
              })}
              {letters.map((s, i) => <TpoText key={i} x={x0 + 0.8} y={rightY(tpoTopPrices[day] - i)} s={s} />)}
              <rect x={x0 - 2} width={1.6} y={rightY(tpoRedRanges[day][0])} height={rightY(tpoRedRanges[day][1]) - rightY(tpoRedRanges[day][0])} fill="#ff0000" />
              <rect x={x0 - 2} width={1.6} y={rightY(tpoBlueRanges[day][0])} height={rightY(tpoBlueRanges[day][1]) - rightY(tpoBlueRanges[day][0])} fill="#0000ff" />
              <line x1={x0 + tpoW(volumes[pocIdx])} x2={pocEnd} y1={rightY(tpoPocPrices[day])} y2={rightY(tpoPocPrices[day])} stroke="#008000" strokeWidth={2} />
              <text x={x0 + 1.5} y={1068} fontFamily={sans} fontSize={11} fill="#1c1c1c">{tpoDayLabels[day]}</text>
            </g>
          );
        })}

        {rightPriceTicks.map((p) => (
          <g key={p}>
            <line x1={1863.4} x2={1869} y1={rightY(p)} y2={rightY(p)} stroke="#a9a9a9" />
            <text x={1871} y={rightY(p) + 4} fontFamily={sans} fontSize={11} fill="#a9a9a9">{p}</text>
          </g>
        ))}
        <text x={1863} y={1071} fontFamily={sans} fontSize={11} fill="#a9a9a9">0</text>
        <path d="M1865,886 l5,-6 h27 v13 h-27 z" fill="#000" stroke="#b8b8b8" />
        <text x={1883} y={890} textAnchor="middle" fontFamily={sans} fontSize={11.5} fill="#fff">2227</text>
        <rect x={1892} y={18} width={10} height={10} fill="none" stroke="#a9a9a9" />
        <text x={1894} y={27} fontFamily={sans} fontSize={9} fill="#a9a9a9">F</text>
      </g>

      <Toolbar />

      {/* window frames, they cut off what runs past the panes */}
      <rect x={778} y={0} width={9} height={1077} fill="#b9d1ea" />
      <rect x={778} y={0} width={9} height={87} fill="#d5e4f4" />
      <rect x={1300} y={0} width={7} height={1077} fill="#d9e7f5" />
      <rect x={0} y={1073} width={778} height={4} fill="#ededed" />
      <rect x={747} y={1072} width={13} height={5} fill="#f4f4f4" stroke="#888" />
    </svg>
  );
}
